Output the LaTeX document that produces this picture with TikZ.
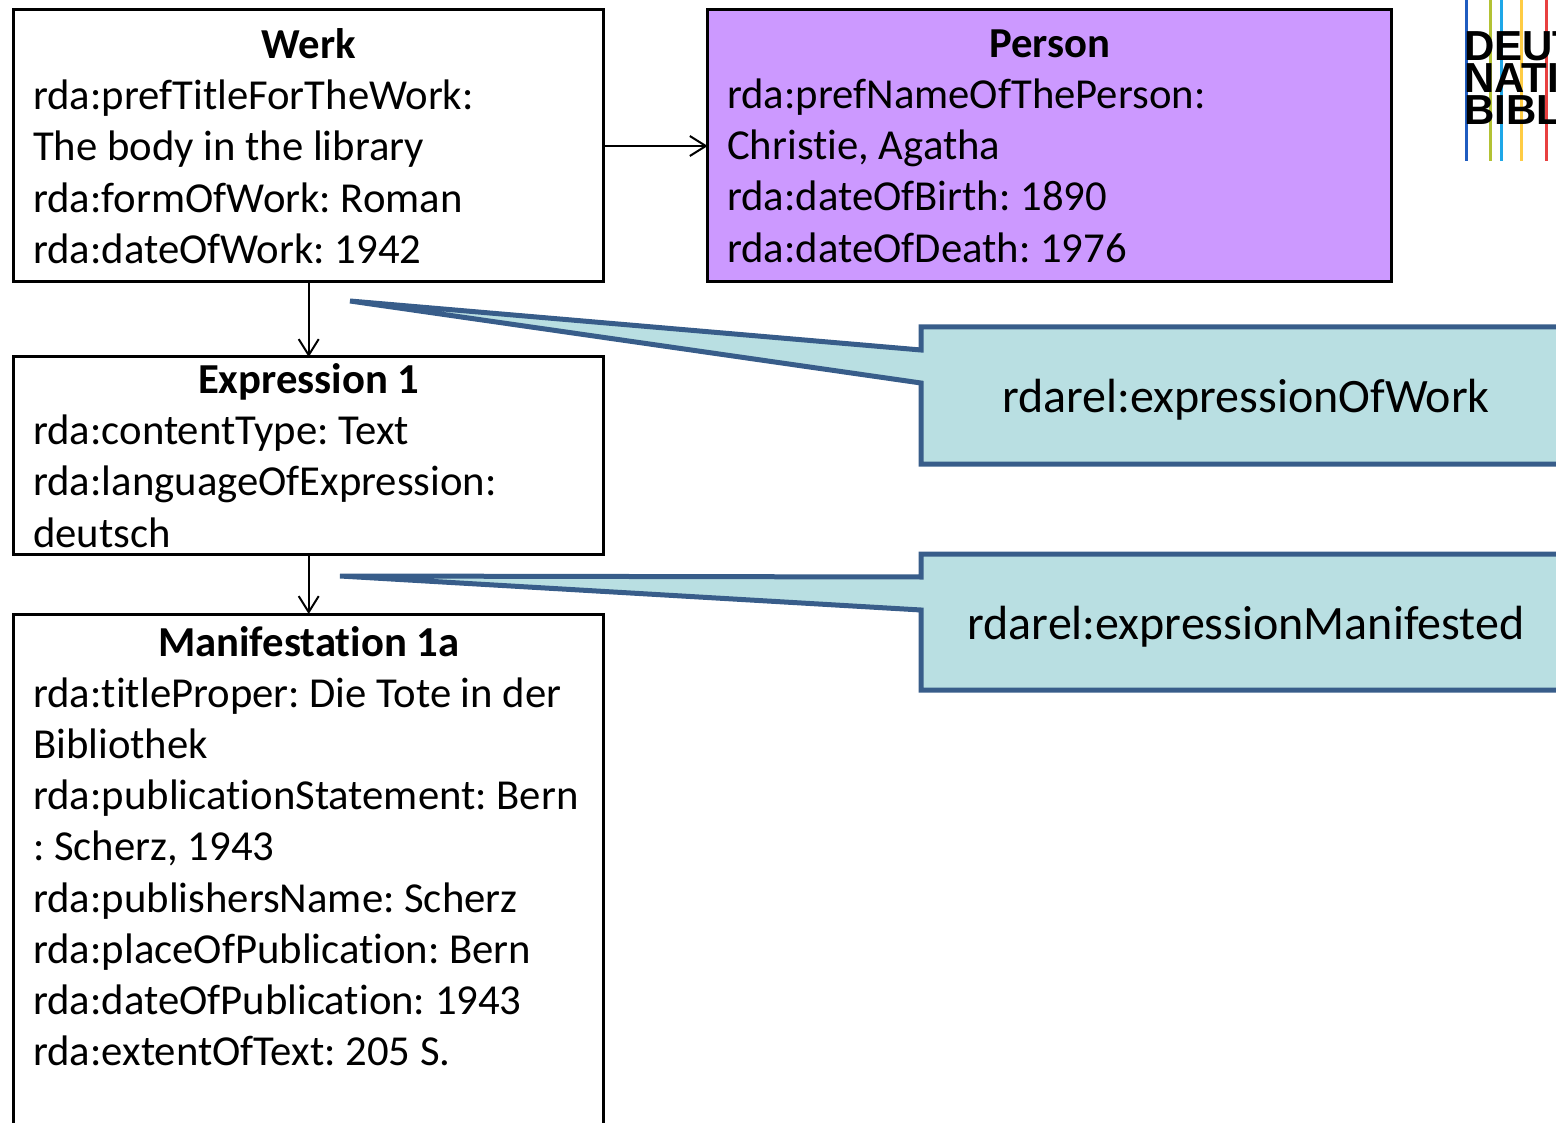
\documentclass[tikz,border=0pt]{standalone}
\usepackage{fontspec}
\setmainfont[Ligatures=CommonOff]{Carlito}
\newfontfamily\logofont{Liberation Sans}
\usetikzlibrary{positioning, arrows.meta}
\definecolor{personfill}{HTML}{CC99FF}
\definecolor{calloutfill}{HTML}{B9DFE2}
\definecolor{calloutline}{HTML}{385D8A}
\definecolor{logoblue}{HTML}{1F5CC0}
\definecolor{logoolive}{HTML}{B3C234}
\definecolor{logocyan}{HTML}{1EA7E8}
\definecolor{logoyellow}{HTML}{FFCC44}
\definecolor{logored}{HTML}{E84040}
\newcommand{\boxhead}[1]{\makebox[\linewidth][c]{\textbf{#1}}}
\frenchspacing
\tikzset{
    x=1pt,
    y=-1pt,
    >={Straight Barb[length=16pt,width=20pt]},
    every node/.style={font=\fontsize{42.7}{51.2}\selectfont, outer sep=0pt},
    entity/.style={draw=black, line width=3pt, inner xsep=19.5pt, inner ysep=0pt, align=left, minimum height=#1, execute at begin node={\spaceskip=0pt\relax}},
    relation/.style={->, line width=2pt},
    callout/.style={draw=calloutline, fill=calloutfill, line width=5pt},
    calloutlabel/.style={inner sep=0pt, font=\fontsize{48}{51}\selectfont},
    logoline/.style={line width=3pt},
    logotext/.style={anchor=base west, inner sep=0pt, font=\fontsize{42}{42}\selectfont\logofont\bfseries},
}

\begin{document}
\begin{tikzpicture}
    \useasboundingbox (0,0) rectangle (1556,1123);
    \clip (0,0) rectangle (1556,1123);

    % logo
    \coordinate (l1a) at (1466,0);  \coordinate (l1b) at (1466,161);
    \coordinate (l2a) at (1490,0);  \coordinate (l2b) at (1490,161);
    \coordinate (l3a) at (1501,0);  \coordinate (l3b) at (1501,161);
    \coordinate (l4a) at (1521,0);  \coordinate (l4b) at (1521,161);
    \coordinate (l5a) at (1546,0);  \coordinate (l5b) at (1546,161);
    \draw[logoline, color=logoblue] (l1a) -- (l1b);
    \draw[logoline, color=logoolive] (l2a) -- (l2b);
    \draw[logoline, color=logocyan] (l3a) -- (l3b);
    \draw[logoline, color=logoyellow] (l4a) -- (l4b);
    \draw[logoline, color=logored] (l5a) -- (l5b);
    \node[logotext] (logo1) at (1464,61) {DEUT};
    \node[logotext] (logo2) at (1464,93) {NATI};
    \node[logotext] (logo3) at (1464,125) {BIBL};

    % boxes
    \node[entity=272pt, text width=551pt, anchor=north west] (werk) at (13.7,10) {\boxhead{Werk}\\
        rda:prefTitleForTheWork:\\
        The body in the library\\
        rda:formOfWork: Roman\\
        rda:dateOfWork: 1942};
    \node[entity=272pt, text width=645pt, fill=personfill, right=104pt of werk] (person) {\boxhead{Person}\\
        rda:prefNameOfThePerson:\\
        Christie, Agatha\\
        rda:dateOfBirth: 1890\\
        rda:dateOfDeath: 1976};
    \node[entity=197pt, text width=551pt, below=75pt of werk] (expr) {\boxhead{Expression 1}\\
        rda:contentType: Text\\
        rda:languageOfExpression:\\
        deutsch};
    \node[entity=515pt, text width=551pt, below=60pt of expr] (mani) {\boxhead{Manifestation 1a}\\
        rda:titleProper: Die Tote in der\\
        Bibliothek\\
        rda:publicationStatement: Bern\\
        : Scherz, 1943\\
        rda:publishersName: Scherz\\
        rda:placeOfPublication: Bern\\
        rda:dateOfPublication: 1943\\
        rda:extentOfText: 205 S.\\
        \mbox{}};

    \draw[relation] (werk) -- (person);
    \draw[relation] (werk) -- (expr);
    \draw[relation] (expr) -- (mani);

    % callouts
    \coordinate (tip1) at (350,301);
    \coordinate (tip2) at (340,576);
    \draw[callout] (1572,327) -- (921,327) -- (921,350) -- (tip1) -- (921,383) -- (921,464) -- (1572,464);
    \draw[callout] (1572,554) -- (921,554) -- (921,577) -- (tip2) -- (921,610) -- (921,690) -- (1572,690);
    \node[calloutlabel] (c1) at (1246,400) {rdarel:expressionOfWork};
    \node[calloutlabel] (c2) at (1246,627) {rdarel:expressionManifested};
\end{tikzpicture}
\end{document}
